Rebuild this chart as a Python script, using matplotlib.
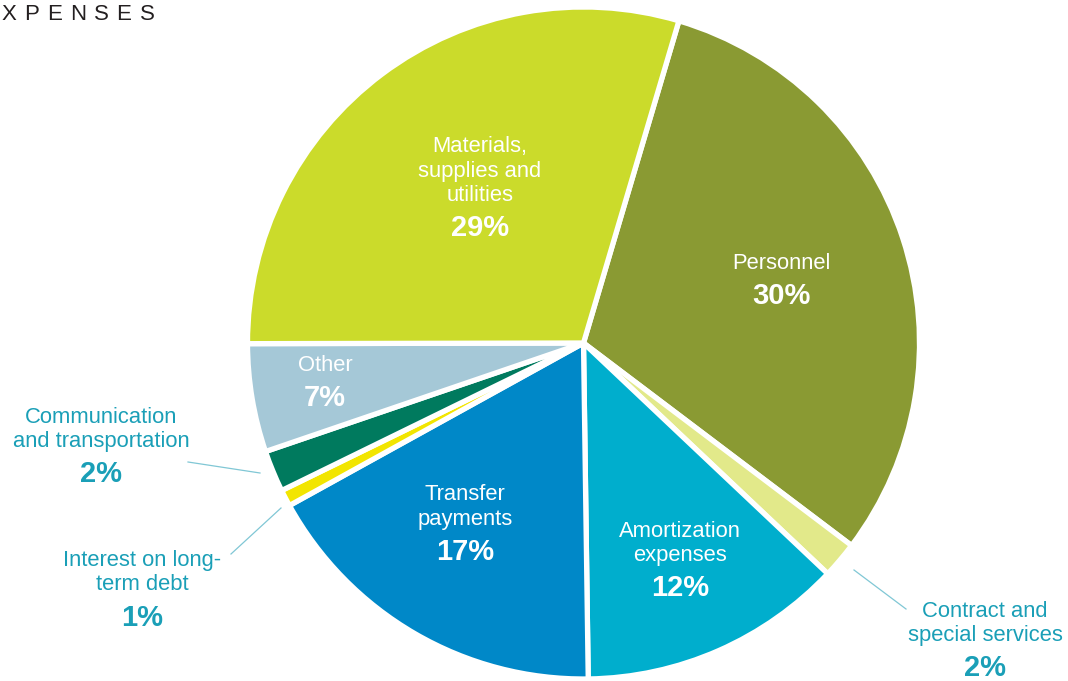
import matplotlib
matplotlib.use("Agg")
import matplotlib.pyplot as plt

# ---- data ----
categories = ["Personnel", "Contract and\nspecial services", "Amortization\nexpenses",
              "Transfer\npayments", "Interest on long-\nterm debt",
              "Communication\nand transportation", "Other",
              "Materials,\nsupplies and\nutilities"]
shares = [30.7, 1.75, 12.72, 17.18, 0.8, 2.0, 5.2, 29.6]   # slice sizes as drawn
pct_labels = ["30%", "2%", "12%", "17%", "1%", "2%", "7%", "29%"]
colors = ["#8a9a33", "#e2e98a", "#00aecd", "#0088c8", "#f2e500",
          "#007a5e", "#a5c8d7", "#cbdb2b"]
title = "XPENSES"

# ---- layout ----
W, H = 1068, 681
cx, cy, R = 583.5, 343, 336
inside = [True, False, True, True, False, False, True, True]
label_pos = [(781, 269), (985, 617), (680, 537), (465, 500), (142, 566),
             (101, 423), (325, 371), (480, 152)]   # x centre, first baseline (px)
leaders = {1: ((854, 570), (906, 609)),
           4: ((281, 508), (231, 554)),
           5: ((188, 462), (260, 473))}
TEAL = "#1a9fb7"
LINE = "#80c7d5"
FONT = "Liberation Sans"

fig = plt.figure(figsize=(W / 100, H / 100), dpi=100)
ax = fig.add_axes([0, 0, 1, 1])

ax.pie(shares, colors=colors, center=(cx, cy), radius=R,
       startangle=-73.5, counterclock=True,
       wedgeprops=dict(edgecolor="white", linewidth=3.8))
ax.set_xlim(0, W)
ax.set_ylim(H, 0)
ax.set_aspect("auto")
ax.axis("off")

pitch, gap = 24.5, 35
for i, (cat, pct) in enumerate(zip(categories, pct_labels)):
    x, y = label_pos[i]
    col = "white" if inside[i] else TEAL
    lines = cat.split("\n")
    for j, ln in enumerate(lines):
        ax.text(x, y + j * pitch, ln, ha="center", va="baseline",
                fontsize=15.8, color=col, family=FONT)
    ax.text(x, y + (len(lines) - 1) * pitch + gap, pct, ha="center",
            va="baseline", fontsize=21, fontweight="bold", color=col, family=FONT)

for k, ((x0, y0), (x1, y1)) in leaders.items():
    ax.plot([x0, x1], [y0, y1], color=LINE, lw=0.9)

# letter-spaced title
fig.canvas.draw()
r = fig.canvas.get_renderer()
xpos = 1
for ch in title:
    t = ax.text(xpos, 19.5, ch, ha="left", va="baseline", fontsize=16,
                color="#231f20", family=FONT)
    bb = t.get_window_extent(renderer=r)
    xpos += bb.width + 8

fig.savefig("out.png", dpi=100)
